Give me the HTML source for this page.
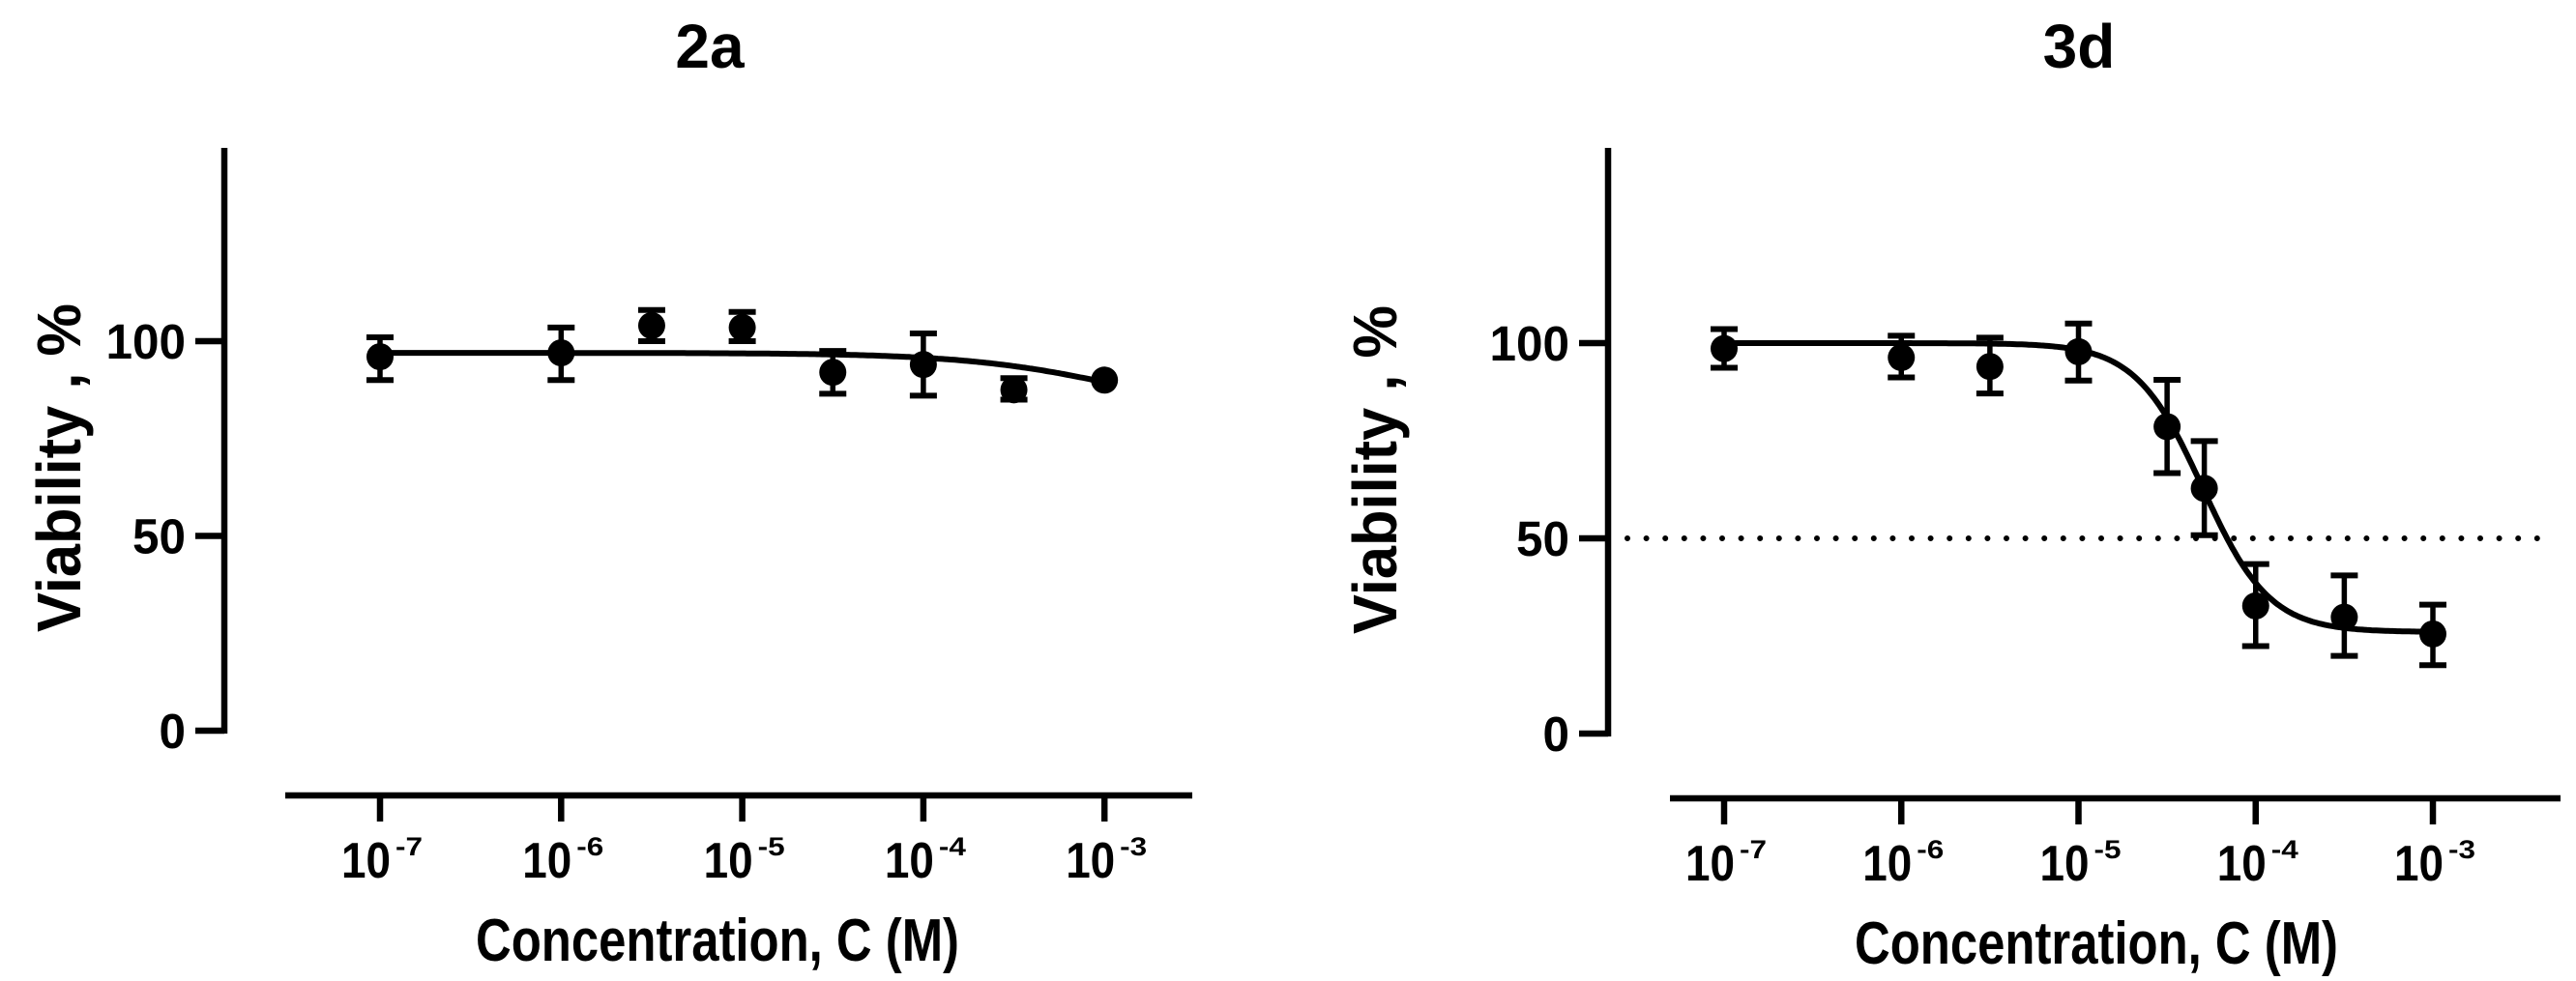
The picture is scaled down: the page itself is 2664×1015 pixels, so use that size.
<!DOCTYPE html>
<html><head><meta charset="utf-8"><style>
html,body{margin:0;padding:0;background:#fff;}
svg{display:block;font-family:"Liberation Sans",Arial,sans-serif;font-weight:bold;}
</style></head><body>
<svg id="chart" width="2664" height="1015" viewBox="0 0 2664 1015" xmlns="http://www.w3.org/2000/svg"></svg>
<script>
// ---- data: panel 2a ----
const logC_2a = [-7, -6, -5.5, -5, -4.5, -4, -3.5, -3];
const mean_2a = [96, 97, 104, 103.5, 92, 94, 87.5, 90];
const errHi_2a = [101, 103.5, 108, 107.5, 97.5, 102, 90.5, 90];
const errLo_2a = [90, 90, 100, 100, 86.5, 86, 85, 90];
const fit_2a = [97, 80, -2.9, 1.0]; // top, bottom, logIC50, hill
// ---- data: panel 3d ----
const logC_3d = [-7, -6, -5.5, -5, -4.5, -4.29, -4, -3.5, -3];
const mean_3d = [98.6, 96.3, 94, 97.8, 78.6, 62.8, 32.7, 29.8, 25.5];
const errHi_3d = [103.6, 101.9, 101.4, 105, 90.6, 74.9, 43.4, 40.5, 33];
const errLo_3d = [93.7, 91.2, 87.1, 90.4, 66.7, 50.8, 22.4, 19.9, 17.5];
const fit_3d = [100, 26, -4.3, 2.3];
const yTicks = [0, 50, 100];
const xTickExp = [-7, -6, -5, -4, -3];
const refLine_3d = [50];

const NS = "http://www.w3.org/2000/svg";
const svg = document.getElementById('chart');
function mk(tag, attrs, parent) {
  const e = document.createElementNS(NS, tag);
  for (const k in attrs) e.setAttribute(k, attrs[k]);
  (parent || svg).appendChild(e);
  return e;
}

function panel(cfg) {
  const g = mk('g', {});
  
  
  const X = lg => cfg.x0 + (lg + 7) * cfg.dec;
  const Y = v => cfg.y0 - v * cfg.yk;

  const t = mk('text', {x: cfg.titleX, y: 70, 'font-size': 64, 'text-anchor': 'middle'}, g);
  t.textContent = cfg.title;
  
  

  const ya = mk('line', {x1: cfg.ax, y1: 153, x2: cfg.ax, y2: Y(0) + 3, stroke: '#000', 'stroke-width': 6.5}, g);
  
  
  yTicks.forEach(v => {
    const tk = mk('line', {x1: cfg.ax - 30, y1: Y(v), x2: cfg.ax, y2: Y(v), stroke: '#000', 'stroke-width': 6.5}, g);
    
    
    const s = String(v);
    const lb = mk('text', {x: cfg.ax - 40, y: Y(v) + 18, 'font-size': 51, 'text-anchor': 'end', textLength: s.length * 27.5, lengthAdjust: 'spacingAndGlyphs'}, g);
    lb.textContent = s;
    
    
  });
  const yl = mk('text', {x: 0, y: 0, 'font-size': 64, 'text-anchor': 'middle', textLength: 340, lengthAdjust: 'spacingAndGlyphs',
    transform: `translate(${cfg.ylX},${cfg.ylY}) rotate(-90)`}, g);
  yl.textContent = 'Viability , %';
  
  

  const xa = mk('line', {x1: cfg.xaL, y1: cfg.xaY, x2: cfg.xaR, y2: cfg.xaY, stroke: '#000', 'stroke-width': 6.5}, g);
  
  
  xTickExp.forEach(e => {
    const x = X(e);
    const tk = mk('line', {x1: x, y1: cfg.xaY, x2: x, y2: cfg.xaY + 27, stroke: '#000', 'stroke-width': 6.5}, g);
    
    
    const base = mk('text', {x: x - 40, y: cfg.xaY + 85, 'font-size': 52, textLength: 51, lengthAdjust: 'spacingAndGlyphs'}, g);
    base.textContent = '10';
    
    
    const sup = mk('text', {x: x + 16, y: cfg.xaY + 62, 'font-size': 27, textLength: 28, lengthAdjust: 'spacingAndGlyphs'}, g);
    sup.textContent = String(e);
    
    
  });
  const xl = mk('text', {x: cfg.xlX, y: cfg.xaY + 171, 'font-size': 62, 'text-anchor': 'middle', textLength: 500, lengthAdjust: 'spacingAndGlyphs'}, g);
  xl.textContent = 'Concentration, C (M)';
  
  

  if (cfg.ref) cfg.ref.forEach(v => {
    const rl = mk('line', {x1: cfg.refL, y1: Y(v), x2: cfg.refR, y2: Y(v), stroke: '#000', 'stroke-width': 6, 'stroke-linecap': 'round', 'stroke-dasharray': '0 19.6'}, g);
    
    
  });

  const [top, bot, ic, h] = cfg.fit;
  const lo = cfg.logC[0], hi = cfg.logC[cfg.logC.length - 1];
  let d = '';
  for (let i = 0; i <= 300; i++) {
    const lg = lo + (hi - lo) * i / 300;
    const v = bot + (top - bot) / (1 + Math.pow(10, (lg - ic) * h));
    d += (i ? 'L' : 'M') + X(lg).toFixed(1) + ',' + Y(v).toFixed(1);
  }
  const c = mk('path', {d: d, fill: 'none', stroke: '#000', 'stroke-width': 6}, g);
  
  

  cfg.logC.forEach((lg, i) => {
    const x = X(lg);
    const eg = mk('g', {}, g);
    
    
    const yh = Y(cfg.hi[i]), yl2 = Y(cfg.lo[i]);
    if (Math.abs(yh - yl2) > 2) {
      mk('line', {x1: x, y1: yh, x2: x, y2: yl2, stroke: '#000', 'stroke-width': 5.5}, eg);
      mk('line', {x1: x - 14, y1: yh, x2: x + 14, y2: yh, stroke: '#000', 'stroke-width': 6}, eg);
      mk('line', {x1: x - 14, y1: yl2, x2: x + 14, y2: yl2, stroke: '#000', 'stroke-width': 6}, eg);
    }
    const p = mk('circle', {cx: x, cy: Y(cfg.mean[i]), r: 14, fill: '#000'}, g);
    
    
  });
}

panel({name: 'panel-2a', title: '2a', titleX: 734, x0: 393, dec: 187.3, y0: 756, yk: 4.03, ax: 232,
  xaL: 295, xaR: 1233, xaY: 823, ylX: 83, ylY: 484, xlX: 742,
  logC: logC_2a, mean: mean_2a, hi: errHi_2a, lo: errLo_2a, fit: fit_2a});
panel({name: 'panel-3d', title: '3d', titleX: 2150, x0: 1783, dec: 183.25, y0: 759, yk: 4.04, ax: 1663,
  xaL: 1727, xaR: 2648, xaY: 826, ylX: 1444, ylY: 486, xlX: 2168,
  ref: refLine_3d, refL: 1683, refR: 2626,
  logC: logC_3d, mean: mean_3d, hi: errHi_3d, lo: errLo_3d, fit: fit_3d});
</script>
</body></html>
